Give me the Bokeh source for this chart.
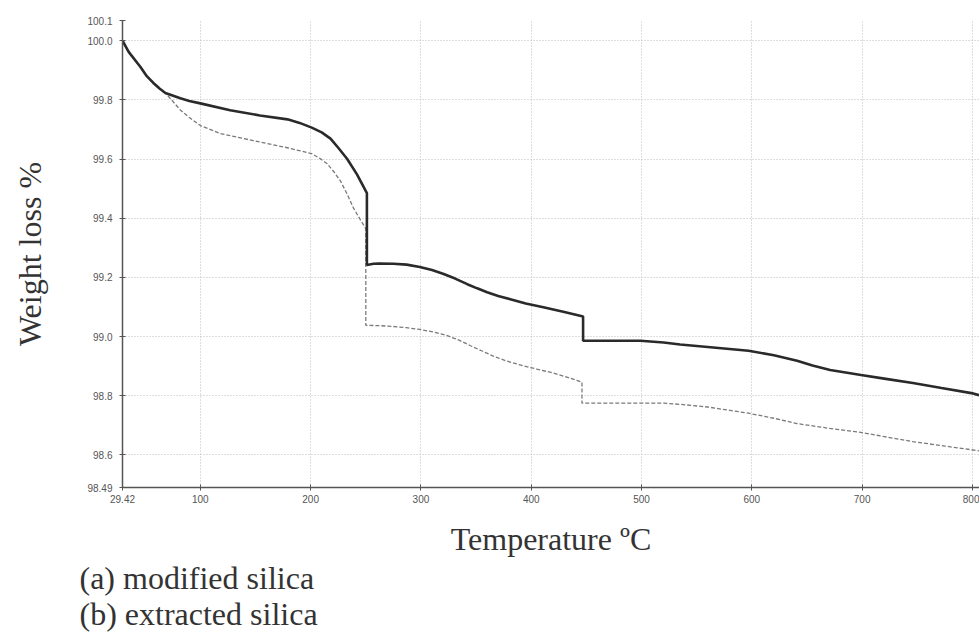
from bokeh.plotting import figure
from bokeh.models import FixedTicker, Range1d, Title
from bokeh.embed import file_html
from bokeh.resources import INLINE

# ---- data ----
temp_a = [29.42, 35, 45.7, 51, 57.4, 63, 68.3, 81.9, 90, 100, 127, 154, 179, 190, 201, 210, 218, 225, 233, 242, 251,
          251, 257, 262, 275, 287, 299, 310, 320, 331, 342, 351, 360, 370, 381, 395, 411, 430, 447,
          447, 499, 520, 535, 560, 597, 620, 641, 655, 671, 699, 720, 746, 772, 799, 806]
weight_a = [100.0, 99.962, 99.911, 99.882, 99.857, 99.838, 99.823, 99.805, 99.796, 99.788, 99.765, 99.747, 99.734,
            99.722, 99.706, 99.690, 99.669, 99.638, 99.601, 99.548, 99.485,
            99.242, 99.246, 99.247, 99.246, 99.243, 99.235, 99.225, 99.212, 99.196, 99.177, 99.163, 99.150, 99.137,
            99.126, 99.112, 99.099, 99.083, 99.068,
            98.986, 98.986, 98.980, 98.973, 98.965, 98.952, 98.937, 98.918, 98.902, 98.887, 98.870, 98.858, 98.843,
            98.826, 98.809, 98.802]

temp_b = [29.42, 35, 45.7, 51, 57.4, 63, 68.3, 75, 82, 90, 100, 118, 148, 179, 201, 208, 215, 221, 227, 233, 239, 245, 250,
          250, 262, 275, 287, 299, 312, 324, 335, 345, 355, 365, 377, 390, 405, 420, 433, 446,
          446, 499, 520, 535, 560, 597, 620, 641, 670, 699, 720, 746, 775, 806]
weight_b = [100.0, 99.962, 99.911, 99.882, 99.857, 99.838, 99.823, 99.795, 99.765, 99.740, 99.713, 99.686, 99.662,
            99.638, 99.618, 99.603, 99.584, 99.557, 99.526, 99.482, 99.433, 99.395, 99.365,
            99.038, 99.037, 99.034, 99.030, 99.024, 99.015, 99.003, 98.987, 98.969, 98.952, 98.935, 98.918, 98.904,
            98.890, 98.877, 98.862, 98.846,
            98.775, 98.775, 98.775, 98.771, 98.762, 98.741, 98.724, 98.706, 98.690, 98.676, 98.662, 98.645, 98.630,
            98.614]

x_ticks = [29.42, 100, 200, 300, 400, 500, 600, 700, 800]
x_tick_labels = ["29.42", "100", "200", "300", "400", "500", "600", "700", "800"]
y_ticks = [98.49, 98.6, 98.8, 99.0, 99.2, 99.4, 99.6, 99.8, 100.0, 100.068]
y_tick_labels = ["98.49", "98.6", "98.8", "99.0", "99.2", "99.4", "99.6", "99.8", "100.0", "100.1"]
x_grid = [100, 200, 300, 400, 500, 600, 700, 800]
y_grid = [98.6, 98.8, 99.0, 99.2, 99.4, 99.6, 99.8, 100.0]

x_title = "Temperature ºC"
y_title = "Weight loss %"
legend_lines = ["(a)  modified silica", "(b) extracted silica"]

# ---- layout ----
W, H = 979, 637
L, T, R, B = 122, 20, 0, 150
X0, X1 = 29.42, 806.4
Y0, Y1 = 98.49, 100.068

p = figure(width=W, height=H, x_range=Range1d(X0, X1), y_range=Range1d(Y0, Y1),
           output_backend="svg", toolbar_location=None,
           min_border_left=L, min_border_right=R, min_border_top=T, min_border_bottom=B)
p.outline_line_color = None
p.background_fill_color = "white"
p.border_fill_color = "white"

for ax in (p.xaxis[0], p.yaxis[0]):
    ax.axis_line_color = "#555555"
    ax.axis_line_width = 1.5
    ax.major_tick_line_color = "#555555"
    ax.major_tick_in = 3
    ax.major_tick_out = 3
    ax.minor_tick_line_color = None
    ax.major_label_text_font = "Liberation Sans"
    ax.major_label_text_font_size = "10px"
    ax.major_label_text_color = "#555555"

p.xaxis.ticker = FixedTicker(ticks=x_ticks)
p.xaxis.major_label_overrides = {v: s for v, s in zip(x_ticks, x_tick_labels)}
p.xaxis.major_label_standoff = 4
p.yaxis.ticker = FixedTicker(ticks=y_ticks)
p.yaxis.major_label_overrides = {v: s for v, s in zip(y_ticks, y_tick_labels)}
p.yaxis.major_label_standoff = 7

serif = "Liberation Serif"
p.yaxis.axis_label = y_title
p.yaxis.axis_label_text_font = serif
p.yaxis.axis_label_text_font_size = "32px"
p.yaxis.axis_label_text_font_style = "normal"
p.yaxis.axis_label_text_color = "#333333"
p.yaxis.axis_label_standoff = 36

p.xaxis.axis_label = x_title
p.xaxis.axis_label_text_font = serif
p.xaxis.axis_label_text_font_size = "32px"
p.xaxis.axis_label_text_font_style = "normal"
p.xaxis.axis_label_text_color = "#333333"
p.xaxis.axis_label_standoff = 15

p.xgrid.ticker = FixedTicker(ticks=x_grid)
p.ygrid.ticker = FixedTicker(ticks=y_grid)
for g in (p.xgrid[0], p.ygrid[0]):
    g.grid_line_color = "#bdbdbd"
    g.grid_line_dash = "1 2"
    g.grid_line_width = 1

p.line(temp_b, weight_b, line_color="#7a7a7a", line_width=1.3, line_dash="4 2")
p.line(temp_a, weight_a, line_color="#2a2a2a", line_width=2.6)

legend_title = Title(text="\n".join(legend_lines), align="left", offset=79 - L, standoff=0,
                     vertical_align="top", text_line_height=1.0,
                     text_font=serif, text_font_size="32px", text_font_style="normal",
                     text_color="#333333")
p.add_layout(legend_title, "below")

open("out.html", "w").write(file_html(p, INLINE))
